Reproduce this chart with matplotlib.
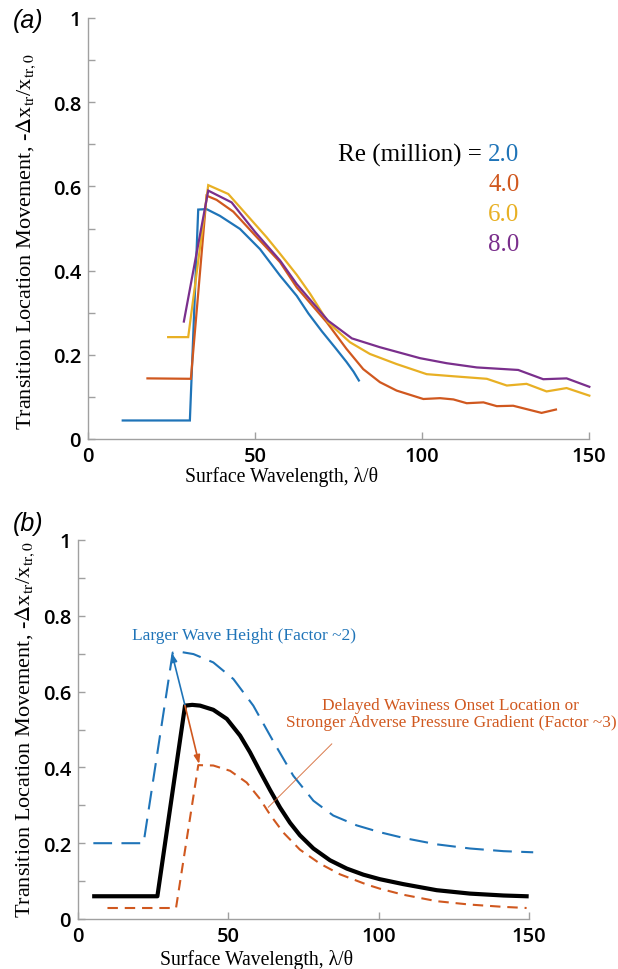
import matplotlib
matplotlib.use("Agg")
import matplotlib.pyplot as plt
import numpy as np

# ---------------- data: panel (a) ----------------
re_labels = ["2.0", "4.0", "6.0", "8.0"]

blue_x = [10.4, 30.5, 33.0, 35.5, 39.5, 45.5, 51.5, 57.5, 62.5, 66.0, 70.0, 74.0, 77.4, 79.5, 81.1]
blue_y = [0.044, 0.044, 0.545, 0.546, 0.530, 0.499, 0.451, 0.388, 0.340, 0.298, 0.256, 0.217, 0.183, 0.160, 0.139]

red_x = [17.8, 30.8, 35.5, 38.5, 43.5, 50.0, 57.5, 62.5, 71.5, 77.4, 82.4, 87.4, 92.4, 100.4, 105.4,
         109.4, 113.4, 118.4, 122.4, 127.3, 131.3, 135.8, 140.1]
red_y = [0.144, 0.143, 0.578, 0.568, 0.540, 0.484, 0.420, 0.360, 0.277, 0.214, 0.166, 0.135, 0.115,
         0.095, 0.097, 0.094, 0.085, 0.087, 0.078, 0.079, 0.071, 0.062, 0.070]

yellow_x = [24.0, 30.0, 36.0, 42.0, 53.5, 57.5, 62.5, 66.5, 71.9, 78.4, 84.4, 92.4, 101.4, 109.4,
            119.4, 125.4, 131.3, 137.3, 143.3, 150.1]
yellow_y = [0.242, 0.242, 0.603, 0.582, 0.479, 0.440, 0.390, 0.345, 0.277, 0.230, 0.202, 0.178,
            0.154, 0.149, 0.143, 0.127, 0.131, 0.113, 0.121, 0.103]

purple_x = [28.7, 36.0, 43.0, 50.0, 57.5, 62.5, 71.9, 79.0, 87.4, 99.4, 107.4, 116.4, 128.8, 136.3,
            143.3, 150.1]
purple_y = [0.279, 0.590, 0.562, 0.492, 0.424, 0.368, 0.281, 0.239, 0.218, 0.192, 0.180, 0.170,
            0.164, 0.142, 0.144, 0.124]

# ---------------- data: panel (b) ----------------
black_x = [5.4, 26.4, 35.6, 38.0, 40.6, 45.0, 49.5, 53.9, 57.2, 60.5, 63.9, 67.2, 70.5, 73.8, 78.3,
           83.8, 89.4, 94.9, 100.4, 108.2, 119.3, 130.4, 141.5, 149.2]
black_y = [0.060, 0.060, 0.563, 0.565, 0.563, 0.552, 0.528, 0.484, 0.440, 0.390, 0.340, 0.294,
           0.254, 0.221, 0.186, 0.155, 0.133, 0.117, 0.105, 0.092, 0.076, 0.067, 0.062, 0.060]

bdash_x = [5.1, 21.8, 31.5, 33.9, 38.4, 45.0, 51.7, 58.3, 65.0, 71.6, 78.3, 84.9, 92.7, 100.4,
           108.2, 119.3, 130.4, 141.5, 151.4]
bdash_y = [0.200, 0.200, 0.703, 0.705, 0.699, 0.677, 0.633, 0.563, 0.468, 0.378, 0.312, 0.273,
           0.247, 0.229, 0.214, 0.197, 0.186, 0.179, 0.176]

odash_x = [9.8, 32.6, 40.0, 45.0, 50.6, 56.1, 60.5, 63.9, 68.3, 73.8, 80.5, 87.1, 96.0, 100.4,
           108.2, 119.3, 130.4, 141.5, 149.2]
odash_y = [0.029, 0.029, 0.406, 0.405, 0.391, 0.360, 0.317, 0.275, 0.228, 0.183, 0.146, 0.118,
           0.091, 0.080, 0.064, 0.047, 0.038, 0.032, 0.029]

xticks = [0, 50, 100, 150]
yticks = [0, 0.2, 0.4, 0.6, 0.8, 1]

C_BLUE = "#1f74b8"
C_RED = "#d0581f"
C_YEL = "#e8b024"
C_PUR = "#7a2f8c"

plt.rcParams["mathtext.fontset"] = "stix"
SERIF = "Liberation Serif"
TICKFONT = dict(family="Open Sans", weight="semibold", size=14.5)

fig = plt.figure(figsize=(6.18, 9.70), dpi=100)
axa = fig.add_axes([88/618, 1-440/970, (589-88)/618, (440-19)/970])
axb = fig.add_axes([78/618, 1-920/970, (529-78)/618, (920-541)/970])


def style(ax, ylx, yly, xlx, xly):
    ax.set_xlim(0, 150)
    ax.set_ylim(0, 1)
    for s in ["top", "right"]:
        ax.spines[s].set_visible(False)
    for s in ["left", "bottom"]:
        ax.spines[s].set_color("#a0a0a0")
        ax.spines[s].set_linewidth(1.0)
    ax.set_xticks(xticks)
    ax.set_xticklabels([str(t) for t in xticks], fontdict=TICKFONT)
    yt = np.round(np.arange(0, 1.01, 0.1), 1)
    ax.set_yticks(yt)
    ax.set_yticklabels([("%g" % v) if v in yticks else "" for v in yt], fontdict=TICKFONT)
    ax.tick_params(direction="in", length=5, color="#a0a0a0", width=1.0, pad=5)
    ax.set_xlabel("Surface Wavelength, λ/θ", family=SERIF, size=14.2)
    ax.set_ylabel(r"Transition Location Movement, -$\Delta$x$_{\rm tr}$/x$_{\rm tr,0}$",
                  family=SERIF, size=16)
    ax.yaxis.set_label_coords(ylx, yly)
    ax.xaxis.set_label_coords(xlx, xly)
    ax.xaxis.label.set_va("top")


# ---- panel (a) ----
for xs, ys, c in [(blue_x, blue_y, C_BLUE), (red_x, red_y, C_RED),
                  (yellow_x, yellow_y, C_YEL), (purple_x, purple_y, C_PUR)]:
    axa.plot(xs, ys, color=c, lw=1.6, clip_on=False, solid_joinstyle="miter")
style(axa, -0.10, 0.471, 0.387, -0.063)

axa.text(119.8, 0.677, "Re (million) = ", family=SERIF, size=18, ha="right", va="center")
for i, (lab, c) in enumerate(zip(re_labels, [C_BLUE, C_RED, C_YEL, C_PUR])):
    axa.text(119.8, 0.677 - i * 0.0715, lab, family=SERIF, size=18, color=c, ha="left", va="center")

fig.text(13/618, 1-21/970, "(a)", family="Liberation Sans", style="italic", size=18,
         ha="left", va="center")

# ---- panel (b) ----
axb.plot(black_x, black_y, color="black", lw=3.0, clip_on=False, solid_joinstyle="round")
axb.plot(bdash_x, bdash_y, color=C_BLUE, lw=1.5, dashes=(9, 4.5), clip_on=False)
axb.plot(odash_x, odash_y, color=C_RED, lw=1.5, dashes=(5, 3.3), clip_on=False)
style(axb, -0.091, 0.503, 0.395, -0.08)

axb.annotate("", xy=(31.2, 0.702), xytext=(35.6, 0.563),
             arrowprops=dict(arrowstyle="-|>,head_length=0.5,head_width=0.18", color=C_BLUE, lw=1.2,
                             shrinkA=0, shrinkB=0))
axb.annotate("", xy=(40.3, 0.409), xytext=(35.6, 0.563),
             arrowprops=dict(arrowstyle="-|>,head_length=0.5,head_width=0.18", color=C_RED, lw=1.2,
                             shrinkA=0, shrinkB=0))
axb.plot([63.3, 84.4], [0.295, 0.462], color=C_RED, lw=0.7, alpha=0.8)

axb.text(17.9, 0.749, "Larger Wave Height (Factor ~2)", family=SERIF, size=12.5, color=C_BLUE,
         ha="left", va="center")
axb.text(124.0, 0.542, "Delayed Waviness Onset Location or\nStronger Adverse Pressure Gradient (Factor ~3)",
         family=SERIF, size=12.4, color=C_RED, ha="center", va="center", linespacing=1.15,
         clip_on=False)

fig.text(13/618, 1-524/970, "(b)", family="Liberation Sans", style="italic", size=18,
         ha="left", va="center")

fig.savefig("out.png", dpi=100)
